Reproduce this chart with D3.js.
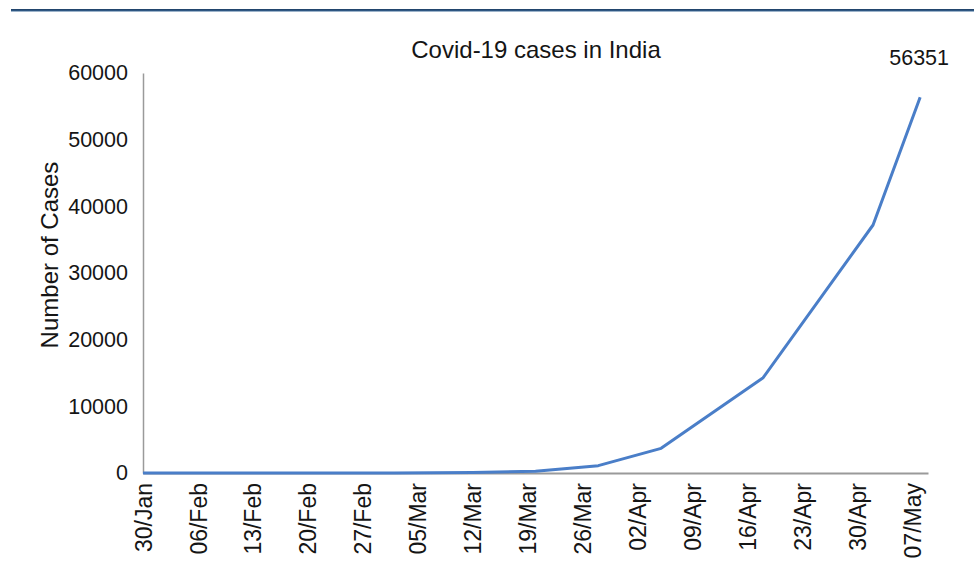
<!DOCTYPE html>
<html>
<head>
<meta charset="utf-8">
<script src="https://cdn.jsdelivr.net/npm/d3@7"></script>
<style>
  html, body { margin: 0; padding: 0; background: #ffffff; }
  svg { display: block; font-family: "Liberation Sans", Arial, sans-serif; }
</style>
</head>
<body>
<svg id="chart" width="974" height="582"></svg>
<script>
// Cumulative confirmed cases (dates of reported counts)
const reportDates = ["2020-01-30", "2020-03-02", "2020-03-12", "2020-03-20", "2020-03-28",
                     "2020-04-05", "2020-04-18", "2020-05-02", "2020-05-08"];
const caseCounts  = [1, 5, 75, 250, 1100, 3700, 14300, 37200, 56351];

// Weekly axis labels
const tickLabels = ["30/Jan", "06/Feb", "13/Feb", "20/Feb", "27/Feb", "05/Mar", "12/Mar",
                    "19/Mar", "26/Mar", "02/Apr", "09/Apr", "16/Apr", "23/Apr", "30/Apr", "07/May"];
const yTicks = [0, 10000, 20000, 30000, 40000, 50000, 60000];

const title = "Covid-19 cases in India";
const yTitle = "Number of Cases";

const parse = d3.utcParse("%Y-%m-%d");
const data = reportDates.map((d, i) => ({ date: parse(d), value: caseCounts[i] }));
const tickDates = tickLabels.map((_, i) => d3.utcDay.offset(parse("2020-01-30"), 7 * i));

const svg = d3.select("#chart");
const ink = "#151515";

// Header rule
const rule = svg.append("defs").append("linearGradient")
  .attr("id", "ruleGrad").attr("x1", 0).attr("x2", 0).attr("y1", 0).attr("y2", 1);
rule.append("stop").attr("offset", "0%").attr("stop-color", "#1c3d63");
rule.append("stop").attr("offset", "100%").attr("stop-color", "#3a6796");
svg.append("rect").attr("x", 11).attr("y", 9).attr("width", 963).attr("height", 2.5)
  .attr("fill", "url(#ruleGrad)");

const x = d3.scaleUtc()
  .domain([parse("2020-01-30"), parse("2020-05-09")])
  .range([143, 928]);
const y = d3.scaleLinear().domain([0, 60000]).range([473, 73]);

// Y axis
const yAxis = svg.append("g").attr("transform", `translate(${x.range()[0]},0)`)
  .call(d3.axisLeft(y).tickValues(yTicks).tickFormat(d3.format("d")).tickSize(0).tickPadding(15));
yAxis.select(".domain").attr("stroke", "#9a9a9a").attr("stroke-width", 1.5);
yAxis.selectAll("text").attr("font-size", 21.5).attr("fill", ink)
  .attr("font-family", "Liberation Sans, Arial, sans-serif");

// X axis
const xAxis = svg.append("g").attr("transform", `translate(0,${y(0)})`)
  .call(d3.axisBottom(x).tickValues(tickDates)
    .tickFormat((d, i) => tickLabels[i]).tickSize(0).tickPadding(0));
xAxis.select(".domain").attr("stroke", "#9a9a9a").attr("stroke-width", 2);
xAxis.selectAll("text")
  .attr("font-size", 23).attr("fill", ink)
  .attr("font-family", "Liberation Sans, Arial, sans-serif")
  .attr("text-anchor", "end")
  .attr("dy", "0.35em")
  .attr("transform", "translate(0,10) rotate(-90)")
  .attr("x", 0).attr("y", 0);

// Case curve
const line = d3.line().x(d => x(d.date)).y(d => y(d.value));
svg.append("path").datum(data)
  .attr("d", line)
  .attr("fill", "none")
  .attr("stroke", "#4a7ec8")
  .attr("stroke-width", 3)
  .attr("stroke-linejoin", "round");

// Latest value label
const last = data[data.length - 1];
svg.append("text")
  .attr("x", x(last.date) - 1).attr("y", y(last.value) - 32)
  .attr("text-anchor", "middle").attr("font-size", 21.5).attr("fill", ink)
  .text(d3.format("d")(last.value));

// Titles
svg.append("text")
  .attr("x", 536).attr("y", 58)
  .attr("text-anchor", "middle").attr("font-size", 24).attr("fill", ink)
  .text(title);

svg.append("text")
  .attr("transform", `translate(58,${255}) rotate(-90)`)
  .attr("text-anchor", "middle").attr("font-size", 24).attr("fill", ink)
  .text(yTitle);
</script>
</body>
</html>
